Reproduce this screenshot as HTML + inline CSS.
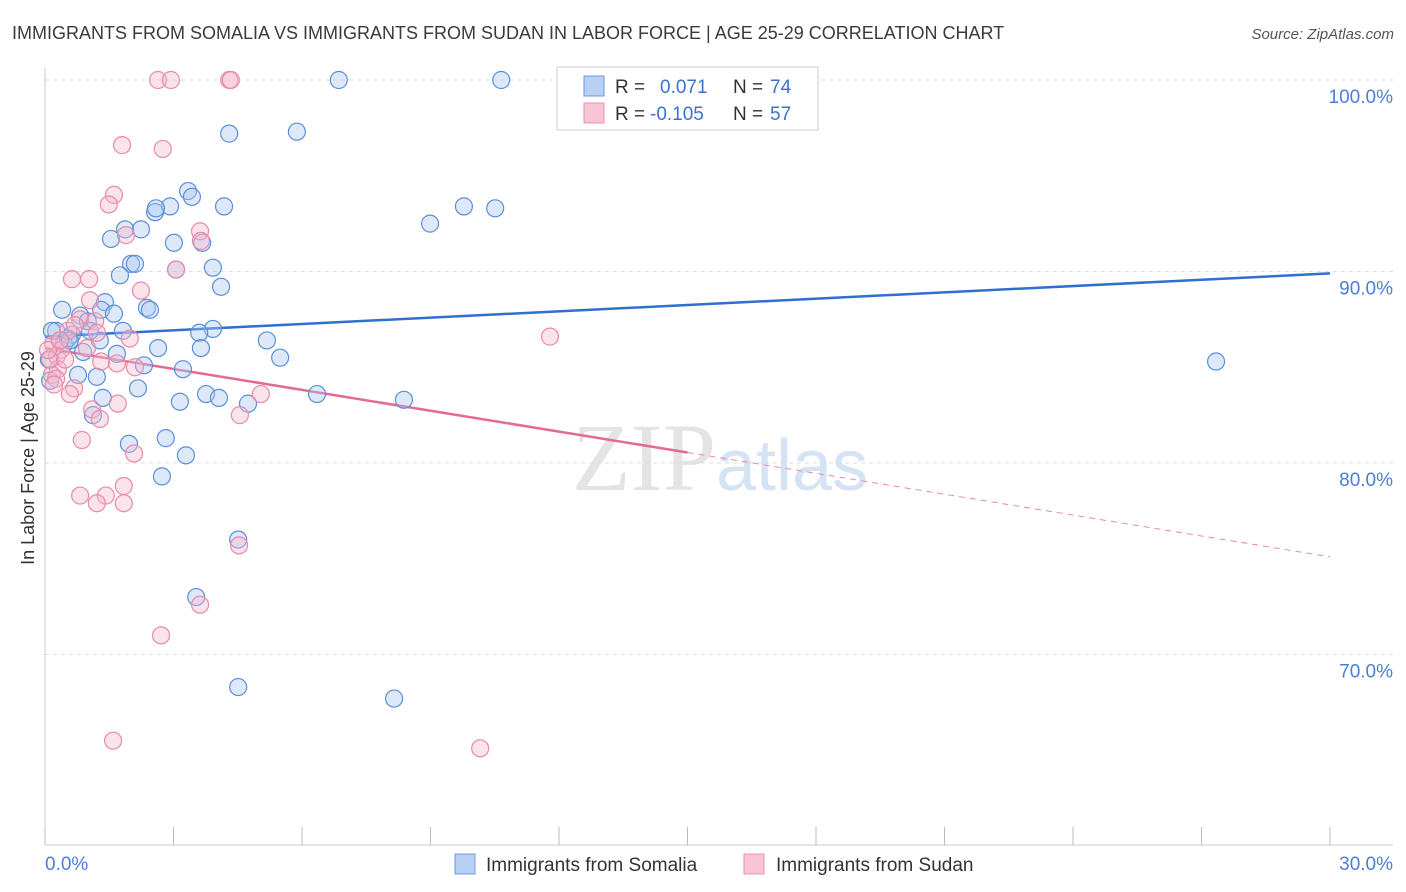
<!DOCTYPE html>
<html><head><meta charset="utf-8">
<style>
body{margin:0;background:#fff;font-family:"Liberation Sans",sans-serif;}
#wrap{position:relative;width:1406px;height:892px;overflow:hidden;}
</style></head>
<body>
<div id="wrap">
<svg id="chart" width="1406" height="892" xmlns="http://www.w3.org/2000/svg">
<text x="12" y="39" font-size="18" fill="#3a3a3a">IMMIGRANTS FROM SOMALIA VS IMMIGRANTS FROM SUDAN IN LABOR FORCE | AGE 25-29 CORRELATION CHART</text>
<text x="1394" y="39" font-size="15" fill="#555" font-style="italic" text-anchor="end">Source: ZipAtlas.com</text>
<text x="720" y="490" font-size="96" fill="#e4e4e4" text-anchor="middle" font-family="Liberation Serif, serif"><tspan>ZIP</tspan><tspan fill="#d5e3f5" font-family="Liberation Sans, sans-serif" font-size="72">atlas</tspan></text>
<text transform="translate(34,458) rotate(-90)" font-size="18" fill="#333" text-anchor="middle">In Labor Force | Age 25-29</text>
<g id="grid"></g><g id="axes"></g><g id="trend"></g><g id="pts"></g>
<g>
<rect x="557" y="67" width="261" height="63" fill="#fff" stroke="#ccc"/>
<rect x="584" y="76" width="20" height="20" fill="#b7d0f3" stroke="#6b9ae0"/>
<rect x="584" y="103" width="20" height="20" fill="#f8c3d4" stroke="#ec92b0"/>
<text x="615" y="93" font-size="19" fill="#333">R = </text><text x="660" y="93" font-size="19" fill="#3a72cc">0.071</text>
<text x="733" y="93" font-size="19" fill="#333">N = </text><text x="770" y="93" font-size="19" fill="#3a72cc">74</text>
<text x="615" y="120" font-size="19" fill="#333">R = </text><text x="650" y="120" font-size="19" fill="#3a72cc">-0.105</text>
<text x="733" y="120" font-size="19" fill="#333">N = </text><text x="770" y="120" font-size="19" fill="#3a72cc">57</text>
</g>
<g>
<rect x="455" y="854" width="20" height="20" fill="#b7d0f3" stroke="#6b9ae0"/>
<text x="486" y="871" font-size="19" fill="#333">Immigrants from Somalia</text>
<rect x="744" y="854" width="20" height="20" fill="#f8c3d4" stroke="#ec92b0"/>
<text x="776" y="871" font-size="19" fill="#333">Immigrants from Sudan</text>
</g>
</svg>
</div>
<script>
const somaliaX=[6.86,10.65,4.30,5.88,3.34,3.43,4.18,2.92,2.57,2.59,8.99,9.78,10.51,1.87,1.54,2.24,3.01,3.67,2.01,2.10,1.75,3.92,3.06,4.11,0.40,0.82,1.40,1.31,1.61,2.38,2.45,1.00,0.63,0.26,1.82,3.92,3.60,5.18,0.35,0.44,0.54,0.89,1.68,2.64,3.64,5.49,2.31,3.22,0.77,1.21,2.17,3.76,4.06,3.15,4.74,6.35,8.38,1.35,1.12,1.96,2.82,3.29,2.73,4.51,3.53,4.51,8.15,27.34,0.16,0.12,0.09,0.58,1.28,1.05];
const somaliaY=[100.0,100.0,97.2,97.3,94.2,93.9,93.4,93.4,93.1,93.3,92.5,93.4,93.3,92.2,91.7,92.2,91.5,91.5,90.4,90.4,89.8,90.2,90.1,89.2,88.0,87.7,88.4,88.0,87.8,88.1,88.0,87.4,86.7,86.9,86.9,87.0,86.8,86.4,86.4,86.2,86.5,85.8,85.7,86.0,86.0,85.5,85.1,84.9,84.6,84.5,83.9,83.6,83.4,83.2,83.1,83.6,83.3,83.4,82.5,81.0,81.3,80.4,79.3,76.0,73.0,68.3,67.7,85.3,86.9,84.3,85.4,86.4,86.4,86.9];
const sudanX=[2.64,2.94,4.30,4.34,1.80,2.75,1.61,1.49,3.62,1.89,3.64,0.63,1.03,3.06,2.24,0.82,1.17,0.54,1.21,1.98,0.19,0.37,0.98,0.28,1.31,1.68,2.10,0.30,0.16,0.26,0.68,0.58,1.70,1.10,1.28,5.04,4.55,0.86,2.08,1.84,0.82,1.42,1.21,1.84,4.53,3.62,2.71,1.59,10.16,11.79,0.12,0.21,0.47,0.07,0.35,0.70,1.05];
const sudanY=[100.0,100.0,100.0,100.0,96.6,96.4,94.0,93.5,92.1,91.9,91.6,89.6,89.6,90.1,89.0,87.5,87.4,86.9,86.8,86.5,86.2,85.9,86.0,85.6,85.3,85.2,85.0,84.9,84.6,84.4,83.9,83.6,83.1,82.8,82.3,83.6,82.5,81.2,80.5,78.8,78.3,78.3,77.9,77.9,75.7,72.6,71.0,65.5,65.1,86.6,85.4,84.1,85.4,85.9,86.4,87.2,88.5];
const trendSomalia=[86.6,89.9];
const trendSudan=[86.0,75.1];
const yTicks=[100,90,80,70];
const yTickLabels=["100.0%","90.0%","80.0%","70.0%"];
const xTicks=[0,3,6,9,12,15,18,21,24,27,30];

const NS="http://www.w3.org/2000/svg";
const X0=45,X1=1330,YTOP=80,PPU=19.15,YBOT=845;
const sx=v=>X0+(v/30)*(X1-X0);
const sy=v=>YTOP+(100-v)*PPU;
function mk(tag,attrs,parent){const e=document.createElementNS(NS,tag);for(const k in attrs)e.setAttribute(k,attrs[k]);parent.appendChild(e);return e;}
const grid=document.getElementById('grid'),axes=document.getElementById('axes'),trend=document.getElementById('trend'),pts=document.getElementById('pts');
yTicks.forEach((t,i)=>{
  const l=mk('line',{x1:X0,x2:1393,y1:sy(t),y2:sy(t),stroke:'#ddd','stroke-dasharray':'4,4'},grid);
  
  
  const tx=mk('text',{x:1393,y:sy(t)+23,'font-size':19,fill:'#4a7fd4','text-anchor':'end'},axes);
  tx.textContent=yTickLabels[i];
  
  
});
const xa=mk('line',{x1:X0,x2:1393,y1:YBOT,y2:YBOT,stroke:'#ccc'},axes);


const ya=mk('line',{x1:X0,x2:X0,y1:68,y2:YBOT,stroke:'#ccc'},axes);


xTicks.forEach(t=>{
  const l=mk('line',{x1:sx(t),x2:sx(t),y1:827,y2:YBOT,stroke:'#bbb'},axes);
  
  
});
const xl0=mk('text',{x:45,y:870,'font-size':19,fill:'#4a7fd4'},axes);xl0.textContent='0.0%';


const xl1=mk('text',{x:1393,y:870,'font-size':19,fill:'#4a7fd4','text-anchor':'end'},axes);xl1.textContent='30.0%';



function drawPts(xs,ys,fill,stroke,name){
  xs.forEach((x,i)=>{
    const c=mk('circle',{cx:sx(x),cy:sy(ys[i]),r:8.5,fill:fill,'fill-opacity':0.4,stroke:stroke,'stroke-width':1.2},pts);
    
    
  });
}
drawPts(somaliaX,somaliaY,'#a9c7f0','#5b8fd9','point-somalia');
drawPts(sudanX,sudanY,'#f5b8cc','#e88aa8','point-sudan');

const tb=mk('line',{x1:sx(0),y1:sy(trendSomalia[0]),x2:sx(30),y2:sy(trendSomalia[1]),stroke:'#2f6fd0','stroke-width':2.5},trend);


const mid=trendSudan[0]+(trendSudan[1]-trendSudan[0])*0.5;
const tp=mk('line',{x1:sx(0),y1:sy(trendSudan[0]),x2:sx(15),y2:sy(mid),stroke:'#e46a95','stroke-width':2.5},trend);


const tpd=mk('line',{x1:sx(15),y1:sy(mid),x2:sx(30),y2:sy(trendSudan[1]),stroke:'#e88aa8','stroke-width':1,'stroke-dasharray':'6,5'},trend);


</script>
</body></html>
